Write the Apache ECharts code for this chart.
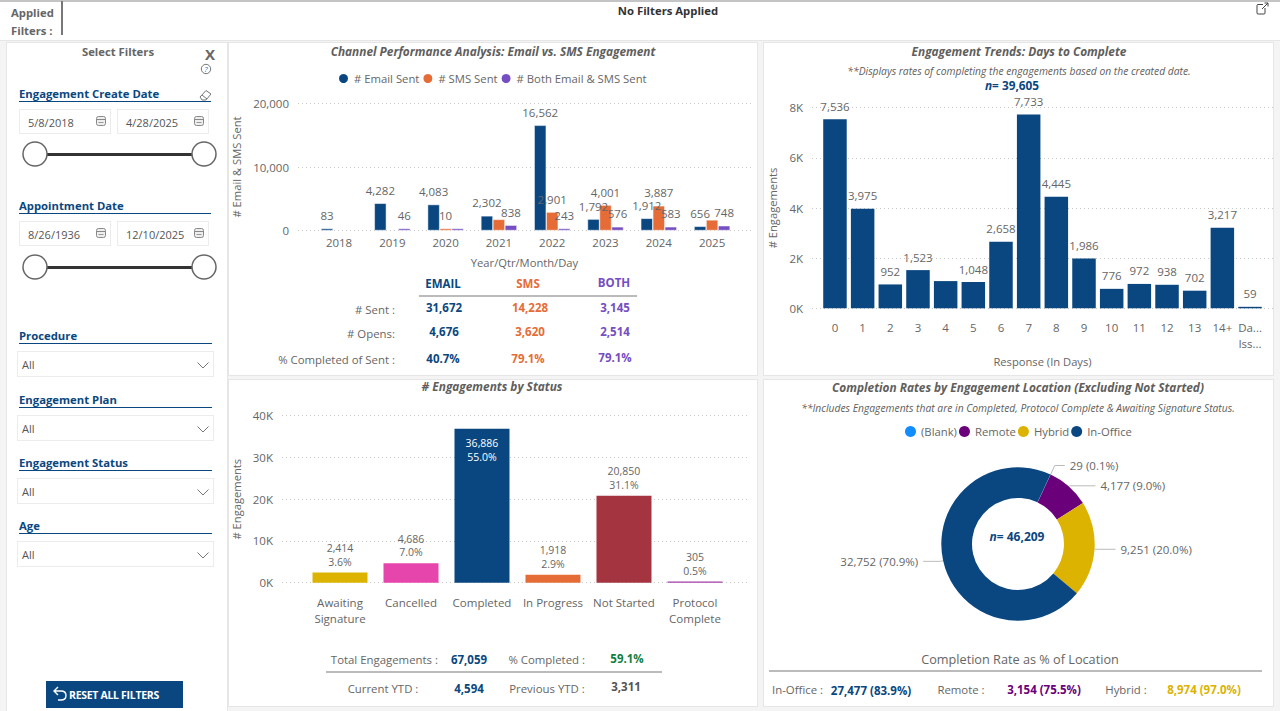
<!DOCTYPE html>
<html>
<head>
<meta charset="utf-8">
<title>Engagement Dashboard</title>
<script src="https://cdn.jsdelivr.net/npm/echarts@6/dist/echarts.min.js"></script>
<style>
html,body{margin:0;padding:0;width:1280px;height:711px;overflow:hidden;background:#f4f4f4;font-family:"Open Sans",sans-serif;color:#666}
#page{position:absolute;left:0;top:0;width:1280px;height:711px}
.panel{position:absolute;background:#fff;border:1px solid #e6e6e6;box-sizing:border-box}
.box{position:absolute;background:#fff;border:1px solid #ececec;box-sizing:border-box}
.rule{position:absolute}
.t{position:absolute;white-space:nowrap;line-height:1}
.title{font-size:11.85px;font-weight:700;font-style:italic;color:#605e5c}
.sub{font-size:10.3px;font-style:italic;color:#605e5c}
.head{font-size:11.3px;font-weight:700;color:#0a4780}
.lab{font-size:11.4px;color:#666}
.val{font-size:11.5px;font-weight:700}
.small{font-size:11px;color:#555}
svg.i{position:absolute;overflow:visible}
</style>
</head>
<body>
<div id="page">
	<div class="panel" style="left:-1px;top:0;width:1282px;height:41px;border-top:2px solid #c4c4c4"></div>
	<div class="panel" style="left:6px;top:42px;width:222px;height:680px"></div>
	<div class="panel" style="left:228px;top:42px;width:530px;height:334px"><div id="chartChannel" style="width:528px;height:332px"></div></div>
	<div class="panel" style="left:763px;top:42px;width:511px;height:334px"><div id="chartDays" style="width:509px;height:332px"></div></div>
	<div class="panel" style="left:228px;top:379px;width:530px;height:328px"><div id="chartStatus" style="width:528px;height:326px"></div></div>
	<div class="panel" style="left:763px;top:379px;width:511px;height:328px"><div id="chartLocation" style="width:509px;height:326px"></div></div>
</div>
<script type="text/javascript">
// channel chart
var years = [2018, 2019, 2020, 2021, 2022, 2023, 2024, 2025];
var emailSent = [83, 4282, 4083, 2302, 16562, 1792, 1912, 656];
var smsSent = [null, null, 10, 1750, 2901, 4001, 3887, 1669];
var bothSent = [null, 46, 111, 838, 243, 576, 583, 748];
// labels the reference leaves out because they collide
var smsNoLabel = [2021, 2025];
var bothNoLabel = [2020];

// days to complete
var dayLabels = ['0', '1', '2', '3', '4', '5', '6', '7', '8', '9', '10', '11', '12', '13', '14+', 'Da...\nIss...'];
var dayValues = [7536, 3975, 952, 1523, 1085, 1048, 2658, 7733, 4445, 1986, 776, 972, 938, 702, 3217, 59];
var dayNoLabel = [4];

// status
var statusNames = ['Awaiting\nSignature', 'Cancelled', 'Completed', 'In Progress', 'Not Started', 'Protocol\nComplete'];
var statusValues = [2414, 4686, 36886, 1918, 20850, 305];
var statusShare = ['3.6%', '7.0%', '55.0%', '2.9%', '31.1%', '0.5%'];
var statusColors = ['#dbb300', '#e645ab', '#0a4780', '#e66c37', '#a43540', '#a43fa8'];

// location
var locationNames = ['(Blank)', 'Remote', 'Hybrid', 'In-Office'];
var locationValues = [29, 4177, 9251, 32752];
var locationShare = ['0.1%', '9.0%', '20.0%', '70.9%'];
var locationColors = ['#118dff', '#6b007b', '#dbb300', '#0a4780'];

var NAVY = '#0a4780', ORANGE = '#e66c37', PURPLE = '#744ec2', GREY = '#666';
var FONT = '"Open Sans", sans-serif';
var page = document.getElementById('page');

function fmt(v){ return Number(v).toLocaleString('en-US'); }

// text placed on the page, a = l / c / r
function put(text, x, y, a, cls, color){
	var d = document.createElement('div');
	d.className = 't ' + (cls || 'lab');
	d.innerHTML = text;
	d.style.left = x + 'px';
	d.style.top = y + 'px';
	d.style.transform = 'translate(' + (a == 'c' ? '-50%' : a == 'r' ? '-100%' : '0') + ',-50%)';
	if(color) d.style.color = color;
	page.appendChild(d);
	return d;
}
function rule(x, y, w, h, color){
	var d = document.createElement('div');
	d.className = 'rule';
	d.style.cssText = 'left:' + x + 'px;top:' + y + 'px;width:' + w + 'px;height:' + h + 'px;background:' + color;
	page.appendChild(d);
}
function box(x, y, w, h){
	var d = document.createElement('div');
	d.className = 'box';
	d.style.cssText = 'left:' + x + 'px;top:' + y + 'px;width:' + w + 'px;height:' + h + 'px';
	page.appendChild(d);
}
function icon(x, y, w, h, inner){
	var s = document.createElementNS('http://www.w3.org/2000/svg', 'svg');
	s.setAttribute('class', 'i');
	s.setAttribute('width', w);
	s.setAttribute('height', h);
	s.setAttribute('viewBox', '0 0 ' + w + ' ' + h);
	s.style.left = x + 'px';
	s.style.top = y + 'px';
	s.innerHTML = inner;
	page.appendChild(s);
}
function dateBox(x, y, w, text){
	box(x, y, w, 25);
	put(text, x + 9, y + 13, 'l', 'small');
	icon(x + w - 15, y + 7, 10, 10, '<rect x="0.5" y="0.5" width="9" height="9" rx="2" fill="#eee" stroke="#888"/><line x1="1" y1="3.5" x2="9" y2="3.5" stroke="#888"/><line x1="2.5" y1="6.5" x2="7.5" y2="6.5" stroke="#999"/>');
}
function slider(y){
	rule(35, y - 1.5, 169, 3, '#333');
	icon(22, y - 13, 26, 26, '<circle cx="13" cy="13" r="12" fill="#fff" stroke="#666" stroke-width="1.5"/>');
	icon(191, y - 13, 26, 26, '<circle cx="13" cy="13" r="12" fill="#fff" stroke="#666" stroke-width="1.5"/>');
}
function dropdown(label, y){
	put(label, 19, y, 'l', 'head');
	rule(19, y + 7, 193, 1, NAVY);
	box(17, y + 15, 197, 26);
	put('All', 22, y + 28, 'l', 'small');
	icon(197, y + 26, 12, 7, '<path d="M0.5 0.5 L6 6 L11.5 0.5" fill="none" stroke="#777"/>');
}

function axisText(size){ return {color: GREY, fontSize: size || 11.5, fontFamily: FONT}; }
function dotted(){ return {show: true, lineStyle: {color: '#c8c8c8', type: [1, 3], width: 1}}; }

// x axis is numeric so the gridlines can run past the outer bars, ticks sit on the category index
function bandAxis(min, max, ticks, labels, margin, name, nameGap){
	var ax = {
		type: 'value', min: min, max: max,
		splitLine: {show: false}, axisLine: {show: false}, axisTick: {show: false},
		axisLabel: Object.assign(axisText(), {
			customValues: ticks, margin: margin, lineHeight: 16,
			formatter: function(v){ return labels ? labels[ticks.indexOf(v)] : String(v); }
		})
	};
	if(name){
		ax.name = name; ax.nameLocation = 'middle'; ax.nameGap = nameGap;
		ax.nameTextStyle = axisText(11.2);
	}
	return ax;
}
function countAxis(max, step, fn, name, gap){
	return {
		type: 'value', min: 0, max: max, interval: step,
		name: name, nameLocation: 'middle', nameGap: gap, nameTextStyle: axisText(11.2),
		axisLine: {show: false}, axisTick: {show: false},
		axisLabel: Object.assign(axisText(), {formatter: fn, margin: 9}),
		splitLine: dotted()
	};
}
function yearBars(values, noLabel){
	return values.map(function(v, i){
		var row = {value: [years[i], v]};
		if(noLabel.indexOf(years[i]) >= 0) row.label = {show: false};
		return row;
	});
}
function channelSeries(name, color, values, noLabel){
	return {
		name: name, type: 'bar', barWidth: 12, barGap: 0, barMinHeight: 2,
		itemStyle: {color: color, borderColor: '#fff', borderWidth: 0.5},
		label: Object.assign(axisText(), {
			show: true, position: 'top', distance: 7,
			formatter: function(p){ return fmt(p.value[1]); }
		}),
		data: yearBars(values, noLabel)
	};
}

var channelChart = echarts.init(document.getElementById('chartChannel'), null, {renderer: 'svg'});
channelChart.setOption({
	animation: false,
	textStyle: {fontFamily: FONT},
	legend: {
		top: 24, left: 103, icon: 'circle', itemWidth: 11, itemHeight: 11, itemGap: 2,
		textStyle: axisText(11.3),
		data: ['# Email Sent', '# SMS Sent', '# Both Email & SMS Sent']
	},
	grid: {left: 69, top: 60.5, width: 453, height: 127, outerBoundsMode: 'none'},
	xAxis: bandAxis(2017.23, 2025.73, years, null, 4, 'Year/Qtr/Month/Day', 26),
	yAxis: countAxis(20000, 10000, fmt, '# Email & SMS Sent', 53),
	series: [
		channelSeries('# Email Sent', NAVY, emailSent, []),
		channelSeries('# SMS Sent', ORANGE, smsSent, smsNoLabel),
		channelSeries('# Both Email & SMS Sent', PURPLE, bothSent, bothNoLabel)
	]
});

var dayTicks = dayValues.map(function(v, i){ return i; });
var daysChart = echarts.init(document.getElementById('chartDays'), null, {renderer: 'svg'});
daysChart.setOption({
	animation: false,
	textStyle: {fontFamily: FONT},
	grid: {left: 48, top: 64.7, width: 461, height: 200.6, outerBoundsMode: 'none'},
	xAxis: bandAxis(-0.83, 15.83, dayTicks, dayLabels, 11, 'Response (In Days)', 46),
	yAxis: countAxis(8000, 2000, function(v){ return v / 1000 + 'K'; }, '# Engagements', 33),
	series: [{
		type: 'bar', barWidth: 23.5,
		itemStyle: {color: NAVY},
		label: Object.assign(axisText(), {
			show: true, position: 'top', distance: 7,
			formatter: function(p){ return fmt(p.value[1]); }
		}),
		data: dayValues.map(function(v, i){
			var row = {value: [i, v]};
			if(dayNoLabel.indexOf(i) >= 0) row.label = {show: false};
			return row;
		})
	}]
});

var statusTicks = statusValues.map(function(v, i){ return i; });
var statusChart = echarts.init(document.getElementById('chartStatus'), null, {renderer: 'svg'});
statusChart.setOption({
	animation: false,
	textStyle: {fontFamily: FONT},
	grid: {left: 53, top: 35.7, width: 468, height: 167, outerBoundsMode: 'none'},
	xAxis: bandAxis(-0.817, 5.775, statusTicks, statusNames, 12),
	yAxis: countAxis(40000, 10000, function(v){ return v / 1000 + 'K'; }, '# Engagements', 37),
	series: [{
		type: 'bar', barWidth: 55,
		label: Object.assign(axisText(10.5), {
			show: true, position: 'top', distance: 4, lineHeight: 13.5,
			formatter: function(p){ return fmt(p.value[1]) + '\n' + statusShare[p.dataIndex]; }
		}),
		data: statusValues.map(function(v, i){
			var row = {value: [i, v], itemStyle: {color: statusColors[i]}};
			if(v > 30000) row.label = {position: 'insideTop', distance: 8, color: '#fff'};
			return row;
		})
	}]
});

// one leader line length pair per slice
var leaderLines = [[10, 10], [1, 26], [3, 18], [3, 17]];
var locationChart = echarts.init(document.getElementById('chartLocation'), null, {renderer: 'svg'});
locationChart.setOption({
	animation: false,
	textStyle: {fontFamily: FONT},
	legend: {
		top: 41, left: 136, icon: 'circle', itemWidth: 11, itemHeight: 11, itemGap: 2,
		textStyle: axisText(11.3),
		data: locationNames
	},
	series: [{
		type: 'pie', center: [254, 164], radius: [46, 76.7], startAngle: 65,
		avoidLabelOverlap: false,
		label: Object.assign(axisText(11.5), {
			formatter: function(p){ return fmt(p.value) + ' (' + locationShare[p.dataIndex] + ')'; }
		}),
		labelLine: {lineStyle: {color: '#bbb'}},
		data: locationValues.map(function(v, i){
			return {
				name: locationNames[i], value: v,
				itemStyle: {color: locationColors[i]},
				labelLine: {length: leaderLines[i][0], length2: leaderLines[i][1]}
			};
		})
	}]
});

// top strip
put('Applied', 11, 13, 'l', 'head', '#666');
put('Filters :', 11, 31, 'l', 'head', '#666');
rule(61, 1, 2, 34, '#777');
put('No Filters Applied', 668, 11, 'c', 'head', '#333');
icon(1256, 2, 13, 13, '<path d="M7 2.5H2Q1 2.5 1 3.5V11Q1 12 2 12H8Q9 12 9 11V6" fill="none" stroke="#444"/><path d="M6 7L12 1M8.5 1H12V4.5" fill="none" stroke="#444"/>');

// filter pane
put('Select Filters', 118, 52, 'c', 'head', '#666');
put('X', 210, 54, 'c', 'val', '#666').style.fontSize = '15px';
icon(200, 63, 12, 12, '<circle cx="6" cy="6" r="4.7" fill="none" stroke="#777"/>');
put('?', 206, 69, 'c', 'sub', '#3a7ac0').style.fontSize = '8px';
put('Engagement Create Date', 19, 94, 'l', 'head');
rule(19, 101, 192, 1, NAVY);
icon(199, 89, 13, 12, '<path d="M1 8L7 1.5L12 5L7 11H3Z" fill="none" stroke="#777"/><line x1="3" y1="6" x2="8" y2="10" stroke="#777"/>');
dateBox(19, 109, 92, '5/8/2018');
dateBox(117, 109, 92, '4/28/2025');
slider(154);
put('Appointment Date', 19, 206, 'l', 'head');
rule(19, 213, 192, 1, NAVY);
dateBox(19, 221, 92, '8/26/1936');
dateBox(117, 221, 92, '12/10/2025');
slider(267);
dropdown('Procedure', 336);
dropdown('Engagement Plan', 400);
dropdown('Engagement Status', 463);
dropdown('Age', 526);
rule(46, 681, 137, 27, NAVY);
icon(53, 686, 14, 16, '<path d="M5 1L1 5L5 9M1 5H8Q13 5 13 9.5T8 14H5" fill="none" stroke="#fff" stroke-width="1.4"/>');
var resetText = put('RESET ALL FILTERS', 69, 695, 'l', 'val', '#fff');
resetText.style.fontSize = '10.5px';
resetText.style.letterSpacing = '-0.3px';

// channel panel
put('Channel Performance Analysis: Email vs. SMS Engagement', 493, 52, 'c', 'title');
put('EMAIL', 443, 284, 'c', 'val', NAVY);
put('SMS', 528, 284, 'c', 'val', ORANGE);
put('BOTH', 614, 283, 'c', 'val', PURPLE);
rule(419, 295, 218, 2, '#bbb');
put('# Sent :', 395, 310, 'r');
put('# Opens:', 395, 334, 'r');
put('% Completed of Sent :', 395, 360, 'r');
put('31,672', 444, 308, 'c', 'val', NAVY);
put('14,228', 530, 308, 'c', 'val', ORANGE);
put('3,145', 615, 308, 'c', 'val', PURPLE);
put('4,676', 444, 332, 'c', 'val', NAVY);
put('3,620', 530, 332, 'c', 'val', ORANGE);
put('2,514', 615, 332, 'c', 'val', PURPLE);
put('40.7%', 443, 359, 'c', 'val', NAVY);
put('79.1%', 528, 359, 'c', 'val', ORANGE);
put('79.1%', 615, 358, 'c', 'val', PURPLE);

// days panel
put('Engagement Trends: Days to Complete', 1019, 52, 'c', 'title');
put('**Displays rates of completing the engagements based on the created date.', 1019, 71, 'c', 'sub');
put('<i>n</i>= 39,605', 1012, 86, 'c', 'val', NAVY).style.fontSize = '11.8px';

// status panel
put('# Engagements by Status', 492, 387, 'c', 'title');
put('Total Engagements :', 438, 660, 'r');
put('67,059', 469, 660, 'c', 'val', NAVY);
put('% Completed :', 585, 660, 'r');
put('59.1%', 627, 659, 'c', 'val', '#108040');
rule(326, 671, 336, 2, '#bbb');
put('Current YTD :', 383, 689, 'c');
put('4,594', 469, 689, 'c', 'val', NAVY);
put('Previous YTD :', 547, 689, 'c');
put('3,311', 626, 687, 'c', 'val', '#555');

// location panel
put('Completion Rates by Engagement Location (Excluding Not Started)', 1018, 388, 'c', 'title');
put('**Includes Engagements that are in Completed, Protocol Complete &amp; Awaiting Signature Status.', 1018, 408, 'c', 'sub');
put('<i>n</i>= 46,209', 1017, 537, 'c', 'val', NAVY).style.fontSize = '12px';
put('Completion Rate as % of Location', 1020, 659, 'c').style.fontSize = '12.7px';
rule(769, 670, 493, 2, '#bbb');
put('In-Office :', 772, 690, 'l');
put('27,477 (83.9%)', 871, 691, 'c', 'val', NAVY);
put('Remote :', 961, 690, 'c');
put('3,154 (75.5%)', 1044, 690, 'c', 'val', '#6b007b');
put('Hybrid :', 1126, 690, 'c');
put('8,974 (97.0%)', 1204, 690, 'c', 'val', '#dbb300');
</script>
</body>
</html>
